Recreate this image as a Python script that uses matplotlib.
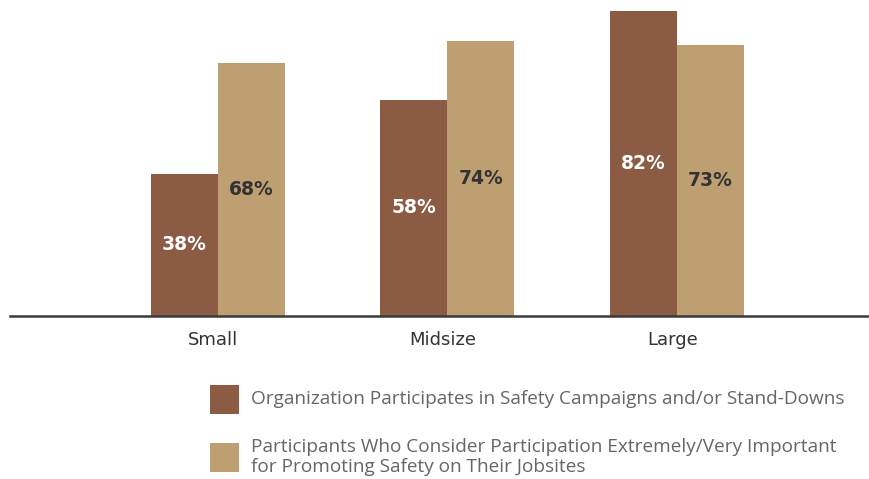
import matplotlib
matplotlib.use("Agg")
import matplotlib.pyplot as plt
from matplotlib.patches import Rectangle
import numpy as np

categories = ["Small", "Midsize", "Large"]
participates = [38, 58, 82]
important = [68, 74, 73]
series_labels = [
    "Organization Participates in Safety Campaigns and/or Stand-Downs",
    "Participants Who Consider Participation Extremely/Very Important\nfor Promoting Safety on Their Jobsites",
]

DARK = "#8C5B43"
TAN = "#BE9F72"
TEXT = "#333333"

W, H = 870, 479
fig = plt.figure(figsize=(W / 100, H / 100), dpi=100)
# axes spans x 10..870 px, y 0..315.5 px from top
ax = fig.add_axes([10 / W, 1 - 315.5 / H, 860 / W, 315.5 / H])

x = np.arange(len(categories))
bw = 0.292
b1 = ax.bar(x - bw / 2, participates, bw, color=DARK, linewidth=0)
b2 = ax.bar(x + bw / 2, important, bw, color=TAN, linewidth=0)

for rect, v in zip(b1, participates):
    ax.text(rect.get_x() + rect.get_width() / 2, v / 2, f"{v}%", ha="center", va="center",
            color="white", fontsize=13.5, fontweight="bold", family="DejaVu Sans")
for rect, v in zip(b2, important):
    ax.text(rect.get_x() + rect.get_width() / 2, v / 2, f"{v}%", ha="center", va="center",
            color=TEXT, fontsize=13.5, fontweight="bold", family="DejaVu Sans")

ax.set_xlim(-0.906, 2.841)
ax.set_ylim(0, 85)
for s in ["top", "right", "left"]:
    ax.spines[s].set_visible(False)
ax.spines["bottom"].set_color("#3a3a3a")
ax.spines["bottom"].set_linewidth(1.8)
ax.set_yticks([])
ax.set_xticks(x - 0.02)
ax.set_xticklabels(categories, fontsize=13, color=TEXT, family="DejaVu Sans")
ax.tick_params(axis="x", length=0, pad=11)

# legend
for (y0, col) in [(385, DARK), (443, TAN)]:
    fig.patches.append(Rectangle((210 / W, 1 - (y0 + 28.5) / H), 29 / W, 28.5 / H,
                                 transform=fig.transFigure, color=col, linewidth=0))
fig.text(251 / W, 1 - 399 / H, series_labels[0], ha="left", va="center",
         fontsize=13.7, color="#666666", family="Open Sans")
fig.text(251 / W, 1 - 457 / H, series_labels[1], ha="left", va="center",
         fontsize=13.7, color="#666666", family="Open Sans", linespacing=1.2)

fig.savefig("out.png", dpi=100)
